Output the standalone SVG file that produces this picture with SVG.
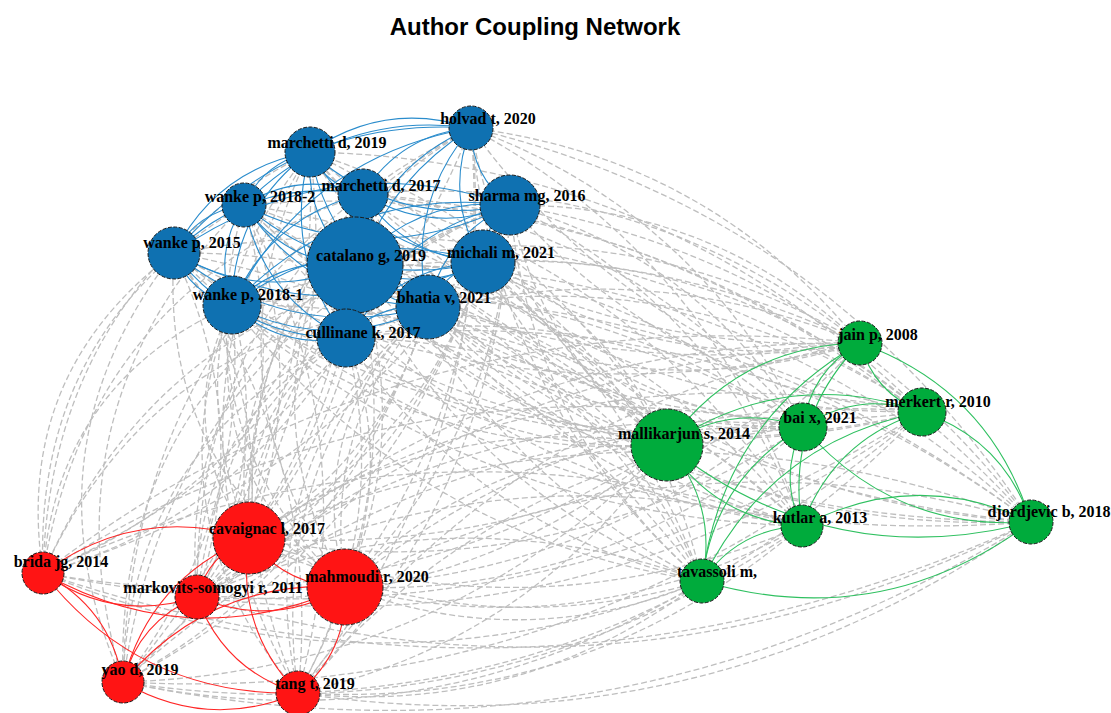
<svg xmlns="http://www.w3.org/2000/svg" width="1111" height="713" viewBox="0 0 1111 713">
<style>
.title{font-family:"Liberation Sans",Arial,sans-serif;font-weight:bold;font-size:24px;fill:#000}
.lbl{font-family:"Liberation Serif","Times New Roman",serif;font-weight:bold;font-size:16px;fill:#000;text-anchor:middle}
.nb{fill:#0f71b1}
.ng{fill:#00ab3c}
.nr{fill:#ff1414}
circle{stroke:#1a1a1a;stroke-width:1;stroke-dasharray:4 1.5}
.gray{stroke:#bebebe;stroke-width:1.3;stroke-dasharray:6 3}
.eb{stroke:#2a8ccc;stroke-width:1.1}
.eg{stroke:#2fc060;stroke-width:1.1}
.er{stroke:#ff2626;stroke-width:1.1}
</style>
<defs>
<path id="e" d="M0 0Q.5 .3 1 0" fill="none" vector-effect="non-scaling-stroke"/>
<path id="g" d="M0 0Q.5 .2 1 0" fill="none" vector-effect="non-scaling-stroke"/>
<path id="h" d="M0 0Q.5 -.2 1 0" fill="none" vector-effect="non-scaling-stroke"/>
<path id="f" d="M0 0Q.5 .25 1 0" fill="none" vector-effect="non-scaling-stroke"/>
</defs>
<rect width="1111" height="713" fill="#fff"/>
<text class="title" x="535" y="35" text-anchor="middle">Author Coupling Network</text>
<g id="edges">
<g class="gray">
<use href="#g" transform="matrix(-389 -215 215 -389 860 343)"/>
<use href="#h" transform="matrix(-550 -191 191 -550 860 343)"/>
<use href="#g" transform="matrix(-497 -149 149 -497 860 343)"/>
<use href="#h" transform="matrix(-616 -138 138 -616 860 343)"/>
<use href="#g" transform="matrix(-350 -138 138 -350 860 343)"/>
<use href="#h" transform="matrix(-686 -90 90 -686 860 343)"/>
<use href="#g" transform="matrix(-505 -78 78 -505 860 343)"/>
<use href="#h" transform="matrix(-377 -81 81 -377 860 343)"/>
<use href="#g" transform="matrix(-628 -38 38 -628 860 343)"/>
<use href="#h" transform="matrix(-432 -36 36 -432 860 343)"/>
<use href="#g" transform="matrix(-514 -5 5 -514 860 343)"/>
<use href="#h" transform="matrix(-451 -284 284 -451 922 412)"/>
<use href="#g" transform="matrix(-612 -260 260 -612 922 412)"/>
<use href="#h" transform="matrix(-559 -218 218 -559 922 412)"/>
<use href="#g" transform="matrix(-678 -207 207 -678 922 412)"/>
<use href="#h" transform="matrix(-412 -207 207 -412 922 412)"/>
<use href="#g" transform="matrix(-748 -159 159 -748 922 412)"/>
<use href="#h" transform="matrix(-567 -147 147 -567 922 412)"/>
<use href="#g" transform="matrix(-439 -150 150 -439 922 412)"/>
<use href="#h" transform="matrix(-690 -107 107 -690 922 412)"/>
<use href="#g" transform="matrix(-494 -105 105 -494 922 412)"/>
<use href="#h" transform="matrix(-576 -74 74 -576 922 412)"/>
<use href="#g" transform="matrix(-332 -299 299 -332 803 427)"/>
<use href="#h" transform="matrix(-493 -275 275 -493 803 427)"/>
<use href="#g" transform="matrix(-440 -233 233 -440 803 427)"/>
<use href="#h" transform="matrix(-559 -222 222 -559 803 427)"/>
<use href="#g" transform="matrix(-293 -222 222 -293 803 427)"/>
<use href="#h" transform="matrix(-629 -174 174 -629 803 427)"/>
<use href="#g" transform="matrix(-448 -162 162 -448 803 427)"/>
<use href="#h" transform="matrix(-320 -165 165 -320 803 427)"/>
<use href="#g" transform="matrix(-571 -122 122 -571 803 427)"/>
<use href="#h" transform="matrix(-375 -120 120 -375 803 427)"/>
<use href="#g" transform="matrix(-457 -89 89 -457 803 427)"/>
<use href="#h" transform="matrix(-196 -317 317 -196 667 445)"/>
<use href="#g" transform="matrix(-357 -293 293 -357 667 445)"/>
<use href="#h" transform="matrix(-304 -251 251 -304 667 445)"/>
<use href="#g" transform="matrix(-423 -240 240 -423 667 445)"/>
<use href="#h" transform="matrix(-157 -240 240 -157 667 445)"/>
<use href="#g" transform="matrix(-493 -192 192 -493 667 445)"/>
<use href="#h" transform="matrix(-312 -180 180 -312 667 445)"/>
<use href="#g" transform="matrix(-184 -183 183 -184 667 445)"/>
<use href="#h" transform="matrix(-435 -140 140 -435 667 445)"/>
<use href="#g" transform="matrix(-239 -138 138 -239 667 445)"/>
<use href="#h" transform="matrix(-321 -107 107 -321 667 445)"/>
<use href="#g" transform="matrix(-331 -398 398 -331 802 526)"/>
<use href="#h" transform="matrix(-492 -374 374 -492 802 526)"/>
<use href="#g" transform="matrix(-439 -332 332 -439 802 526)"/>
<use href="#h" transform="matrix(-558 -321 321 -558 802 526)"/>
<use href="#g" transform="matrix(-292 -321 321 -292 802 526)"/>
<use href="#h" transform="matrix(-628 -273 273 -628 802 526)"/>
<use href="#g" transform="matrix(-447 -261 261 -447 802 526)"/>
<use href="#h" transform="matrix(-319 -264 264 -319 802 526)"/>
<use href="#g" transform="matrix(-570 -221 221 -570 802 526)"/>
<use href="#h" transform="matrix(-374 -219 219 -374 802 526)"/>
<use href="#g" transform="matrix(-456 -188 188 -456 802 526)"/>
<use href="#g" transform="matrix(-560 -394 394 -560 1031 522)"/>
<use href="#h" transform="matrix(-721 -370 370 -721 1031 522)"/>
<use href="#g" transform="matrix(-668 -328 328 -668 1031 522)"/>
<use href="#h" transform="matrix(-787 -317 317 -787 1031 522)"/>
<use href="#g" transform="matrix(-521 -317 317 -521 1031 522)"/>
<use href="#h" transform="matrix(-857 -269 269 -857 1031 522)"/>
<use href="#g" transform="matrix(-676 -257 257 -676 1031 522)"/>
<use href="#h" transform="matrix(-548 -260 260 -548 1031 522)"/>
<use href="#g" transform="matrix(-799 -217 217 -799 1031 522)"/>
<use href="#h" transform="matrix(-603 -215 215 -603 1031 522)"/>
<use href="#g" transform="matrix(-685 -184 184 -685 1031 522)"/>
<use href="#h" transform="matrix(-231 -453 453 -231 702 581)"/>
<use href="#g" transform="matrix(-392 -429 429 -392 702 581)"/>
<use href="#h" transform="matrix(-339 -387 387 -339 702 581)"/>
<use href="#g" transform="matrix(-458 -376 376 -458 702 581)"/>
<use href="#h" transform="matrix(-192 -376 376 -192 702 581)"/>
<use href="#g" transform="matrix(-528 -328 328 -528 702 581)"/>
<use href="#h" transform="matrix(-347 -316 316 -347 702 581)"/>
<use href="#g" transform="matrix(-219 -319 319 -219 702 581)"/>
<use href="#h" transform="matrix(-470 -276 276 -470 702 581)"/>
<use href="#g" transform="matrix(-274 -274 274 -274 702 581)"/>
<use href="#h" transform="matrix(-356 -243 243 -356 702 581)"/>
<use href="#e" transform="matrix(-222 410 -410 -222 471 128)"/>
<use href="#h" transform="matrix(-428 445 -445 -428 471 128)"/>
<use href="#e" transform="matrix(-274 469 -469 -274 471 128)"/>
<use href="#h" transform="matrix(-126 459 -459 -126 471 128)"/>
<use href="#e" transform="matrix(-348 554 -554 -348 471 128)"/>
<use href="#h" transform="matrix(-173 565 -565 -173 471 128)"/>
<use href="#e" transform="matrix(-61 386 -386 -61 310 152)"/>
<use href="#e" transform="matrix(-267 421 -421 -267 310 152)"/>
<use href="#h" transform="matrix(-113 445 -445 -113 310 152)"/>
<use href="#e" transform="matrix(35 435 -435 35 310 152)"/>
<use href="#h" transform="matrix(-187 530 -530 -187 310 152)"/>
<use href="#e" transform="matrix(-12 541 -541 -12 310 152)"/>
<use href="#h" transform="matrix(-114 344 -344 -114 363 194)"/>
<use href="#e" transform="matrix(-320 379 -379 -320 363 194)"/>
<use href="#h" transform="matrix(-166 403 -403 -166 363 194)"/>
<use href="#e" transform="matrix(-18 393 -393 -18 363 194)"/>
<use href="#h" transform="matrix(-240 488 -488 -240 363 194)"/>
<use href="#e" transform="matrix(-65 499 -499 -65 363 194)"/>
<use href="#h" transform="matrix(5 333 -333 5 244 205)"/>
<use href="#e" transform="matrix(-201 368 -368 -201 244 205)"/>
<use href="#h" transform="matrix(-47 392 -392 -47 244 205)"/>
<use href="#e" transform="matrix(101 382 -382 101 244 205)"/>
<use href="#e" transform="matrix(-121 477 -477 -121 244 205)"/>
<use href="#h" transform="matrix(54 488 -488 54 244 205)"/>
<use href="#e" transform="matrix(-261 333 -333 -261 510 205)"/>
<use href="#h" transform="matrix(-467 368 -368 -467 510 205)"/>
<use href="#e" transform="matrix(-313 392 -392 -313 510 205)"/>
<use href="#h" transform="matrix(-165 382 -382 -165 510 205)"/>
<use href="#e" transform="matrix(-387 477 -477 -387 510 205)"/>
<use href="#h" transform="matrix(-212 488 -488 -212 510 205)"/>
<use href="#h" transform="matrix(75 285 -285 75 174 253)"/>
<use href="#e" transform="matrix(-131 320 -320 -131 174 253)"/>
<use href="#h" transform="matrix(23 344 -344 23 174 253)"/>
<use href="#e" transform="matrix(171 334 -334 171 174 253)"/>
<use href="#e" transform="matrix(-51 429 -429 -51 174 253)"/>
<use href="#h" transform="matrix(124 440 -440 124 174 253)"/>
<use href="#e" transform="matrix(-106 273 -273 -106 355 265)"/>
<use href="#h" transform="matrix(-312 308 -308 -312 355 265)"/>
<use href="#e" transform="matrix(-158 332 -332 -158 355 265)"/>
<use href="#h" transform="matrix(-10 322 -322 -10 355 265)"/>
<use href="#e" transform="matrix(-232 417 -417 -232 355 265)"/>
<use href="#h" transform="matrix(-57 428 -428 -57 355 265)"/>
<use href="#h" transform="matrix(-234 276 -276 -234 483 262)"/>
<use href="#e" transform="matrix(-440 311 -311 -440 483 262)"/>
<use href="#h" transform="matrix(-286 335 -335 -286 483 262)"/>
<use href="#e" transform="matrix(-138 325 -325 -138 483 262)"/>
<use href="#h" transform="matrix(-360 420 -420 -360 483 262)"/>
<use href="#e" transform="matrix(-185 431 -431 -185 483 262)"/>
<use href="#e" transform="matrix(17 233 -233 17 232 305)"/>
<use href="#e" transform="matrix(-189 268 -268 -189 232 305)"/>
<use href="#h" transform="matrix(-35 292 -292 -35 232 305)"/>
<use href="#e" transform="matrix(113 282 -282 113 232 305)"/>
<use href="#h" transform="matrix(-109 377 -377 -109 232 305)"/>
<use href="#e" transform="matrix(66 388 -388 66 232 305)"/>
<use href="#h" transform="matrix(-179 231 -231 -179 428 307)"/>
<use href="#e" transform="matrix(-385 266 -266 -385 428 307)"/>
<use href="#h" transform="matrix(-231 290 -290 -231 428 307)"/>
<use href="#e" transform="matrix(-83 280 -280 -83 428 307)"/>
<use href="#h" transform="matrix(-305 375 -375 -305 428 307)"/>
<use href="#e" transform="matrix(-130 386 -386 -130 428 307)"/>
<use href="#e" transform="matrix(-97 200 -200 -97 346 338)"/>
<use href="#h" transform="matrix(-303 235 -235 -303 346 338)"/>
<use href="#e" transform="matrix(-149 259 -259 -149 346 338)"/>
<use href="#h" transform="matrix(-1 249 -249 -1 346 338)"/>
<use href="#e" transform="matrix(-223 344 -344 -223 346 338)"/>
<use href="#h" transform="matrix(-48 355 -355 -48 346 338)"/>
<use href="#g" transform="matrix(611 -195 195 611 249 538)"/>
<use href="#h" transform="matrix(673 -126 126 673 249 538)"/>
<use href="#g" transform="matrix(554 -111 111 554 249 538)"/>
<use href="#h" transform="matrix(418 -93 93 418 249 538)"/>
<use href="#g" transform="matrix(553 -12 12 553 249 538)"/>
<use href="#h" transform="matrix(782 -16 16 782 249 538)"/>
<use href="#g" transform="matrix(453 43 -43 453 249 538)"/>
<use href="#h" transform="matrix(817 -230 230 817 43 573)"/>
<use href="#g" transform="matrix(879 -161 161 879 43 573)"/>
<use href="#h" transform="matrix(760 -146 146 760 43 573)"/>
<use href="#g" transform="matrix(624 -128 128 624 43 573)"/>
<use href="#h" transform="matrix(759 -47 47 759 43 573)"/>
<use href="#g" transform="matrix(988 -51 51 988 43 573)"/>
<use href="#g" transform="matrix(659 8 -8 659 43 573)"/>
<use href="#h" transform="matrix(663 -254 254 663 197 597)"/>
<use href="#g" transform="matrix(725 -185 185 725 197 597)"/>
<use href="#h" transform="matrix(606 -170 170 606 197 597)"/>
<use href="#g" transform="matrix(470 -152 152 470 197 597)"/>
<use href="#h" transform="matrix(605 -71 71 605 197 597)"/>
<use href="#g" transform="matrix(834 -75 75 834 197 597)"/>
<use href="#h" transform="matrix(505 -16 16 505 197 597)"/>
<use href="#g" transform="matrix(515 -244 244 515 345 587)"/>
<use href="#h" transform="matrix(577 -175 175 577 345 587)"/>
<use href="#g" transform="matrix(458 -160 160 458 345 587)"/>
<use href="#h" transform="matrix(322 -142 142 322 345 587)"/>
<use href="#g" transform="matrix(457 -61 61 457 345 587)"/>
<use href="#h" transform="matrix(686 -65 65 686 345 587)"/>
<use href="#g" transform="matrix(357 -6 6 357 345 587)"/>
<use href="#h" transform="matrix(737 -339 339 737 123 682)"/>
<use href="#g" transform="matrix(799 -270 270 799 123 682)"/>
<use href="#h" transform="matrix(680 -255 255 680 123 682)"/>
<use href="#g" transform="matrix(544 -237 237 544 123 682)"/>
<use href="#g" transform="matrix(679 -156 156 679 123 682)"/>
<use href="#g" transform="matrix(908 -160 160 908 123 682)"/>
<use href="#g" transform="matrix(579 -101 101 579 123 682)"/>
<use href="#h" transform="matrix(562 -350 350 562 298 693)"/>
<use href="#g" transform="matrix(624 -281 281 624 298 693)"/>
<use href="#h" transform="matrix(505 -266 266 505 298 693)"/>
<use href="#g" transform="matrix(369 -248 248 369 298 693)"/>
<use href="#g" transform="matrix(504 -167 167 504 298 693)"/>
<use href="#g" transform="matrix(733 -171 171 733 298 693)"/>
<use href="#g" transform="matrix(404 -112 112 404 298 693)"/>
</g>
<g class="eb">
<use href="#f" transform="matrix(-161 24 -24 -161 471 128)"/>
<use href="#f" transform="matrix(-108 66 -66 -108 471 128)"/>
<use href="#f" transform="matrix(-227 77 -77 -227 471 128)"/>
<use href="#f" transform="matrix(39 77 -77 39 471 128)"/>
<use href="#f" transform="matrix(-297 125 -125 -297 471 128)"/>
<use href="#f" transform="matrix(-116 137 -137 -116 471 128)"/>
<use href="#f" transform="matrix(12 134 -134 12 471 128)"/>
<use href="#f" transform="matrix(-239 177 -177 -239 471 128)"/>
<use href="#f" transform="matrix(-43 179 -179 -43 471 128)"/>
<use href="#f" transform="matrix(-125 210 -210 -125 471 128)"/>
<use href="#f" transform="matrix(53 42 -42 53 310 152)"/>
<use href="#f" transform="matrix(-66 53 -53 -66 310 152)"/>
<use href="#f" transform="matrix(200 53 -53 200 310 152)"/>
<use href="#f" transform="matrix(-136 101 -101 -136 310 152)"/>
<use href="#f" transform="matrix(45 113 -113 45 310 152)"/>
<use href="#f" transform="matrix(173 110 -110 173 310 152)"/>
<use href="#f" transform="matrix(-78 153 -153 -78 310 152)"/>
<use href="#f" transform="matrix(118 155 -155 118 310 152)"/>
<use href="#f" transform="matrix(36 186 -186 36 310 152)"/>
<use href="#f" transform="matrix(-119 11 -11 -119 363 194)"/>
<use href="#f" transform="matrix(147 11 -11 147 363 194)"/>
<use href="#f" transform="matrix(-189 59 -59 -189 363 194)"/>
<use href="#f" transform="matrix(-8 71 -71 -8 363 194)"/>
<use href="#f" transform="matrix(120 68 -68 120 363 194)"/>
<use href="#f" transform="matrix(-131 111 -111 -131 363 194)"/>
<use href="#f" transform="matrix(65 113 -113 65 363 194)"/>
<use href="#f" transform="matrix(-17 144 -144 -17 363 194)"/>
<use href="#f" transform="matrix(266 0 0 266 244 205)"/>
<use href="#f" transform="matrix(-70 48 -48 -70 244 205)"/>
<use href="#f" transform="matrix(111 60 -60 111 244 205)"/>
<use href="#f" transform="matrix(239 57 -57 239 244 205)"/>
<use href="#f" transform="matrix(-12 100 -100 -12 244 205)"/>
<use href="#f" transform="matrix(184 102 -102 184 244 205)"/>
<use href="#f" transform="matrix(102 133 -133 102 244 205)"/>
<use href="#f" transform="matrix(-336 48 -48 -336 510 205)"/>
<use href="#f" transform="matrix(-155 60 -60 -155 510 205)"/>
<use href="#f" transform="matrix(-27 57 -57 -27 510 205)"/>
<use href="#f" transform="matrix(-278 100 -100 -278 510 205)"/>
<use href="#f" transform="matrix(-82 102 -102 -82 510 205)"/>
<use href="#f" transform="matrix(-164 133 -133 -164 510 205)"/>
<use href="#f" transform="matrix(181 12 -12 181 174 253)"/>
<use href="#f" transform="matrix(309 9 -9 309 174 253)"/>
<use href="#f" transform="matrix(58 52 -52 58 174 253)"/>
<use href="#f" transform="matrix(254 54 -54 254 174 253)"/>
<use href="#f" transform="matrix(172 85 -85 172 174 253)"/>
<use href="#f" transform="matrix(128 -3 3 128 355 265)"/>
<use href="#f" transform="matrix(-123 40 -40 -123 355 265)"/>
<use href="#f" transform="matrix(73 42 -42 73 355 265)"/>
<use href="#f" transform="matrix(-9 73 -73 -9 355 265)"/>
<use href="#f" transform="matrix(-251 43 -43 -251 483 262)"/>
<use href="#f" transform="matrix(-55 45 -45 -55 483 262)"/>
<use href="#f" transform="matrix(-137 76 -76 -137 483 262)"/>
<use href="#f" transform="matrix(196 2 -2 196 232 305)"/>
<use href="#f" transform="matrix(114 33 -33 114 232 305)"/>
<use href="#f" transform="matrix(-82 31 -31 -82 428 307)"/>
</g>
<g class="eg">
<use href="#f" transform="matrix(-171 -179 179 -171 1031 522)"/>
<use href="#f" transform="matrix(62 69 -69 62 860 343)"/>
<use href="#f" transform="matrix(-57 84 -84 -57 860 343)"/>
<use href="#f" transform="matrix(-193 102 -102 -193 860 343)"/>
<use href="#f" transform="matrix(-58 183 -183 -58 860 343)"/>
<use href="#f" transform="matrix(-158 238 -238 -158 860 343)"/>
<use href="#f" transform="matrix(-119 15 -15 -119 922 412)"/>
<use href="#f" transform="matrix(-255 33 -33 -255 922 412)"/>
<use href="#f" transform="matrix(-120 114 -114 -120 922 412)"/>
<use href="#f" transform="matrix(-109 -110 110 -109 1031 522)"/>
<use href="#f" transform="matrix(-220 169 -169 -220 922 412)"/>
<use href="#f" transform="matrix(-136 18 -18 -136 803 427)"/>
<use href="#f" transform="matrix(-1 99 -99 -1 803 427)"/>
<use href="#f" transform="matrix(228 95 -95 228 803 427)"/>
<use href="#f" transform="matrix(-101 154 -154 -101 803 427)"/>
<use href="#f" transform="matrix(135 81 -81 135 667 445)"/>
<use href="#f" transform="matrix(364 77 -77 364 667 445)"/>
<use href="#f" transform="matrix(-35 -136 136 -35 702 581)"/>
<use href="#f" transform="matrix(-229 4 -4 -229 1031 522)"/>
<use href="#f" transform="matrix(-100 55 -55 -100 802 526)"/>
<use href="#f" transform="matrix(329 -59 59 329 702 581)"/>
</g>
<g class="er">
<use href="#f" transform="matrix(-206 35 -35 -206 249 538)"/>
<use href="#f" transform="matrix(154 24 -24 154 43 573)"/>
<use href="#f" transform="matrix(302 14 -14 302 43 573)"/>
<use href="#f" transform="matrix(-80 -109 109 -80 123 682)"/>
<use href="#f" transform="matrix(255 120 -120 255 43 573)"/>
<use href="#f" transform="matrix(-52 59 -59 -52 249 538)"/>
<use href="#f" transform="matrix(96 49 -49 96 249 538)"/>
<use href="#f" transform="matrix(-126 144 -144 -126 249 538)"/>
<use href="#f" transform="matrix(49 155 -155 49 249 538)"/>
<use href="#f" transform="matrix(148 -10 10 148 197 597)"/>
<use href="#f" transform="matrix(-74 85 -85 -74 197 597)"/>
<use href="#f" transform="matrix(101 96 -96 101 197 597)"/>
<use href="#f" transform="matrix(-222 95 -95 -222 345 587)"/>
<use href="#f" transform="matrix(47 -106 106 47 298 693)"/>
<use href="#f" transform="matrix(175 11 -11 175 123 682)"/>
</g>
</g>
<g id="n-holvad"><circle class="nb" cx="471" cy="128" r="22"/><text class="lbl" x="488" y="124">holvad t, 2020</text></g>
<g id="n-marchetti2019"><circle class="nb" cx="310" cy="152" r="25"/><text class="lbl" x="327" y="148">marchetti d, 2019</text></g>
<g id="n-marchetti2017"><circle class="nb" cx="363" cy="194" r="25"/><text class="lbl" x="381" y="191">marchetti d, 2017</text></g>
<g id="n-wanke2018-2"><circle class="nb" cx="244" cy="205" r="22"/><text class="lbl" x="260" y="202">wanke p, 2018-2</text></g>
<g id="n-sharma"><circle class="nb" cx="510" cy="205" r="30"/><text class="lbl" x="527" y="201">sharma mg, 2016</text></g>
<g id="n-wanke2015"><circle class="nb" cx="174" cy="253" r="26"/><text class="lbl" x="192" y="248">wanke p, 2015</text></g>
<g id="n-catalano"><circle class="nb" cx="355" cy="265" r="48"/><text class="lbl" x="371" y="261">catalano g, 2019</text></g>
<g id="n-michali"><circle class="nb" cx="483" cy="262" r="32"/><text class="lbl" x="501" y="258">michali m, 2021</text></g>
<g id="n-wanke2018-1"><circle class="nb" cx="232" cy="305" r="29"/><text class="lbl" x="248" y="300">wanke p, 2018-1</text></g>
<g id="n-bhatia"><circle class="nb" cx="428" cy="307" r="32"/><text class="lbl" x="444" y="303">bhatia v, 2021</text></g>
<g id="n-cullinane"><circle class="nb" cx="346" cy="338" r="29"/><text class="lbl" x="363" y="338">cullinane k, 2017</text></g>
<g id="n-jain"><circle class="ng" cx="860" cy="343" r="22"/><text class="lbl" x="878" y="340">jain p, 2008</text></g>
<g id="n-merkert"><circle class="ng" cx="922" cy="412" r="24"/><text class="lbl" x="938" y="407">merkert r, 2010</text></g>
<g id="n-bai"><circle class="ng" cx="803" cy="427" r="24"/><text class="lbl" x="820" y="423">bai x, 2021</text></g>
<g id="n-mallikarjun"><circle class="ng" cx="667" cy="445" r="36"/><text class="lbl" x="684" y="439">mallikarjun s, 2014</text></g>
<g id="n-kutlar"><circle class="ng" cx="802" cy="526" r="21"/><text class="lbl" x="820" y="523">kutlar a, 2013</text></g>
<g id="n-djordjevic"><circle class="ng" cx="1031" cy="522" r="22"/><text class="lbl" x="1049" y="517">djordjevic b, 2018</text></g>
<g id="n-tavassoli"><circle class="ng" cx="702" cy="581" r="22"/><text class="lbl" x="717" y="577">tavassoli m,</text></g>
<g id="n-cavaignac"><circle class="nr" cx="249" cy="538" r="36"/><text class="lbl" x="267" y="534">cavaignac l, 2017</text></g>
<g id="n-brida"><circle class="nr" cx="43" cy="573" r="21"/><text class="lbl" x="61" y="567">brida jg, 2014</text></g>
<g id="n-mahmoudi"><circle class="nr" cx="345" cy="587" r="38"/><text class="lbl" x="367" y="582">mahmoudi r, 2020</text></g>
<g id="n-markovits"><circle class="nr" cx="197" cy="597" r="22"/><text class="lbl" x="213" y="593">markovits-somogyi r, 2011</text></g>
<g id="n-yao"><circle class="nr" cx="123" cy="682" r="21"/><text class="lbl" x="140" y="675">yao d, 2019</text></g>
<g id="n-tang"><circle class="nr" cx="298" cy="693" r="22"/><text class="lbl" x="315" y="689">tang t, 2019</text></g>
</svg>
